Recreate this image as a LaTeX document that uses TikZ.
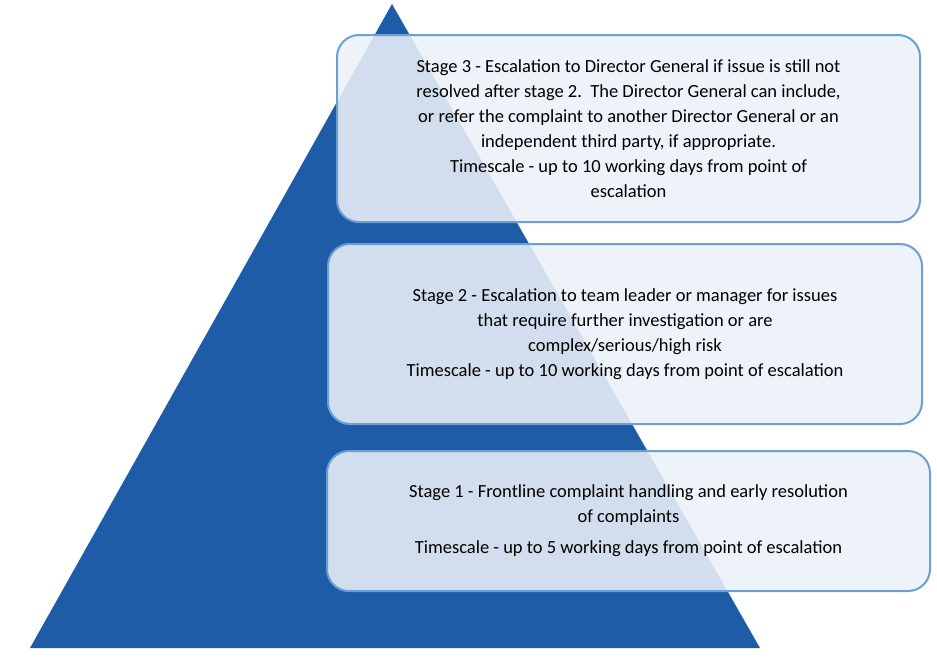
\documentclass[tikz,border=0pt]{standalone}
\usepackage{fontspec}
\setmainfont{Carlito}
\definecolor{pyrblue}{RGB}{30,92,168}
\definecolor{boxline}{RGB}{106,160,214}
\definecolor{boxfill}{RGB}{236,241,248}
\begin{document}
\begin{tikzpicture}[x=1pt,y=-1pt]
        % Define styles
        \tikzset{
            stagebox/.style={rectangle, rounded corners=22pt, draw=boxline, line width=2pt, fill=boxfill, fill opacity=0.88, text opacity=1, align=center, font=\fontsize{18.5}{25}\selectfont},
        }
        \useasboundingbox (0,0) rectangle (937,659);

        % Pyramid
        \fill[pyrblue] (392,4) -- (760,648) -- (30,648) -- cycle;

        % Stages
        \node[stagebox, minimum width=583pt, minimum height=187pt] (stage_three) at (628.5,128.5) {Stage 3 - Escalation to Director General if issue is still not\\ resolved after stage 2.\ \ The Director General can include,\\ or refer the complaint to another Director General or an\\ independent third party, if appropriate.\\ Timescale - up to 10 working days from point of\\ escalation};
        \node[stagebox, minimum width=594pt, minimum height=180pt] (stage_two) at (625,334) {Stage 2 - Escalation to team leader or manager for issues\\ that require further investigation or are\\ complex/serious/high risk\\ Timescale - up to 10 working days from point of escalation};
        \node[stagebox, minimum width=603pt, minimum height=140pt] (stage_one) at (628.5,521) {Stage 1 - Frontline complaint handling and early resolution\\ of complaints\\[6pt] Timescale - up to 5 working days from point of escalation};
    \end{tikzpicture}
\end{document}
